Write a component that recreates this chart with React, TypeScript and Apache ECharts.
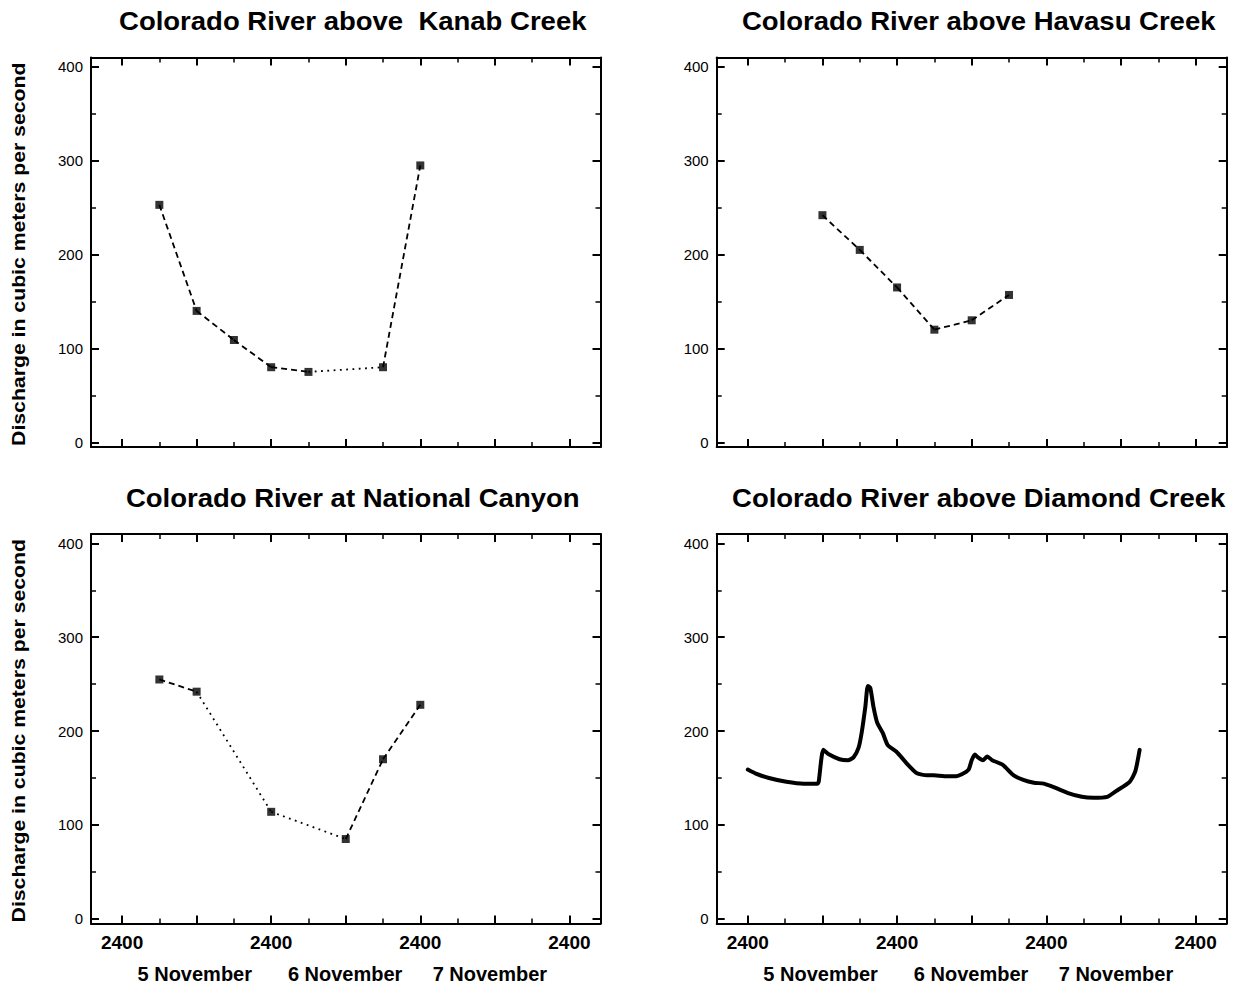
import React, { useEffect, useRef } from "react";
import * as echarts from "echarts";

// ---------------- data ----------------
const panelTitles = [
  "Colorado River above  Kanab Creek",
  "Colorado River above Havasu Creek",
  "Colorado River at National Canyon",
  "Colorado River above Diamond Creek",
];
const yAxisTitle = "Discharge in cubic meters per second";

// hours after 2400 on 4 November
const kanabHours = [6, 12, 18, 24, 30, 42, 48];
const kanabValues = [253, 140, 109, 80, 75, 80, 295];

const havasuHours = [12, 18, 24, 30, 36, 42];
const havasuValues = [242, 205, 165, 120, 130, 157];

const nationalHours = [6, 12, 24, 36, 42, 48];
const nationalValues = [255, 242, 114, 85, 170, 228];

const diamondHours = [0, 1.2, 3.4, 6.2, 9, 11.2, 11.4, 12.15, 13.1, 14.75, 16.1, 17, 17.8, 18.3, 18.9, 19.3, 19.7, 20.2, 20.8, 21.7, 22.5, 23.9, 25.5, 27.2, 28.8, 29.9, 31.6, 33.5, 34.4, 35.5, 36, 36.5, 37, 37.8, 38.5, 39.3, 41, 42.7, 44.3, 46, 47.6, 49.3, 51.5, 53.7, 55.6, 57.8, 59.2, 61.4, 62.3, 63];
const diamondValues = [159, 155, 150, 146, 144, 144, 146, 180, 175, 170, 169, 172, 182, 198, 226, 248, 246, 226, 209, 198, 185, 178, 166, 155, 153, 153, 152, 152, 154, 159, 169, 175, 172, 169, 173, 169, 164, 153, 148, 145, 144, 140, 134, 130, 129, 130, 136, 146, 157, 180];

const xMajorTicks = [0, 12, 24, 36, 48, 60, 72];
const xMinorTicks = [6, 18, 30, 42, 54, 66];
const xLabelTicks = [0, 24, 48, 72];
const xTickLabel = "2400";
const dayLabelHours = [11.7, 35.9, 59.2];
const dayLabels = ["5 November", "6 November", "7 November"];
const yMajorTicks = [0, 100, 200, 300, 400];
const yMinorTicks = [50, 150, 250, 350];
const xRange = [-5, 77];
const yRange = [-5, 410];
const sampleStep = 6; // hours between regular samples

// ---------------- layout ----------------
const panels = [
  { left: 91, top: 57.5, width: 509.5, height: 389.5, xLabels: false, yTitle: true },
  { left: 716.7, top: 57.5, width: 510, height: 389.5, xLabels: false, yTitle: false },
  { left: 91, top: 534, width: 509.5, height: 389.5, xLabels: true, yTitle: true },
  { left: 716.7, top: 534, width: 510, height: 389.5, xLabels: true, yTitle: false },
];
const FONT = '"Liberation Sans", Arial, Helvetica, sans-serif';

function buildOption() {
  const grids: any[] = [];
  const xAxes: any[] = [];
  const yAxes: any[] = [];
  const series: any[] = [];
  const graphics: any[] = [];
  const dataXIndex: number[] = [];
  const dataYIndex: number[] = [];

  panels.forEach((p, g) => {
    grids.push({ left: p.left, top: p.top, width: p.width, height: p.height, containLabel: false });
    const baseX = {
      type: "value",
      gridIndex: g,
      min: xRange[0],
      max: xRange[1],
      splitLine: { show: false },
      axisLine: { show: false, onZero: false },
      axisLabel: { show: false },
    };
    const lineStyle = { color: "#000", width: 2 };
    dataXIndex.push(xAxes.length);
    xAxes.push({
      ...baseX,
      position: "bottom",
      axisLine: { show: true, onZero: false, lineStyle },
      axisTick: { show: true, inside: true, length: 8, customValues: xMajorTicks, lineStyle: { color: "#000", width: 2 } },
      axisLabel: p.xLabels
        ? {
            show: true,
            customValues: xLabelTicks,
            formatter: () => xTickLabel,
            color: "#000",
            fontFamily: FONT,
            fontWeight: "bold",
            fontSize: 19,
            margin: 9,
          }
        : { show: false },
    });
    xAxes.push({
      ...baseX,
      position: "bottom",
      axisTick: { show: true, inside: true, length: 5, customValues: xMinorTicks, lineStyle: { color: "#000", width: 1.5 } },
    });
    xAxes.push({
      ...baseX,
      position: "top",
      axisLine: { show: true, onZero: false, lineStyle },
      axisTick: { show: true, inside: true, length: 8, customValues: xMajorTicks, lineStyle: { color: "#000", width: 2 } },
    });
    xAxes.push({
      ...baseX,
      position: "top",
      axisTick: { show: true, inside: true, length: 5, customValues: xMinorTicks, lineStyle: { color: "#000", width: 1.5 } },
    });
    if (p.xLabels) {
      xAxes.push({
        ...baseX,
        position: "bottom",
        axisTick: { show: false },
        axisLabel: {
          show: true,
          customValues: dayLabelHours,
          formatter: (v: number) => dayLabels[dayLabelHours.indexOf(v)] ?? "",
          color: "#000",
          fontFamily: FONT,
          fontWeight: "bold",
          fontSize: 20,
          margin: 40,
        },
      });
    }

    const baseY = {
      type: "value",
      gridIndex: g,
      min: yRange[0],
      max: yRange[1],
      splitLine: { show: false },
      axisLine: { show: false, onZero: false },
      axisLabel: { show: false },
    };
    dataYIndex.push(yAxes.length);
    yAxes.push({
      ...baseY,
      position: "left",
      axisLine: { show: true, onZero: false, lineStyle },
      axisTick: { show: true, inside: true, length: 8, customValues: yMajorTicks, lineStyle: { color: "#000", width: 2 } },
      axisLabel: {
        show: true,
        customValues: yMajorTicks,
        color: "#000",
        fontFamily: FONT,
        fontSize: 15,
        margin: 8,
      },
    });
    yAxes.push({
      ...baseY,
      position: "left",
      axisTick: { show: true, inside: true, length: 5, customValues: yMinorTicks, lineStyle: { color: "#000", width: 1.5 } },
    });
    yAxes.push({
      ...baseY,
      position: "right",
      axisLine: { show: true, onZero: false, lineStyle },
      axisTick: { show: true, inside: true, length: 8, customValues: yMajorTicks, lineStyle: { color: "#000", width: 2 } },
    });
    yAxes.push({
      ...baseY,
      position: "right",
      axisTick: { show: true, inside: true, length: 5, customValues: yMinorTicks, lineStyle: { color: "#000", width: 1.5 } },
    });

    // titles
    graphics.push({
      type: "text",
      x: p.left + p.width / 2 + 7,
      y: p.top - 36,
      scaleX: 1.1,
      style: {
        text: panelTitles[g],
        x: 0,
        y: 0,
        fill: "#000",
        font: `bold 25px ${FONT}`,
        align: "center",
        verticalAlign: "middle",
      },
    });
    if (p.yTitle) {
      graphics.push({
        type: "text",
        x: 19,
        y: p.top + p.height / 2 + 2,
        rotation: Math.PI / 2,
        scaleX: 1.18,
        style: {
          text: yAxisTitle,
          x: 0,
          y: 0,
          fill: "#000",
          font: `bold 18px ${FONT}`,
          align: "center",
          verticalAlign: "middle",
        },
      });
    }
  });

  // sampled series: dashed between consecutive samples, dotted across gaps
  const sampled = [
    { g: 0, hours: kanabHours, values: kanabValues },
    { g: 1, hours: havasuHours, values: havasuValues },
    { g: 2, hours: nationalHours, values: nationalValues },
  ];
  sampled.forEach(({ g, hours, values }) => {
    for (let i = 0; i < hours.length - 1; i++) {
      const gap = hours[i + 1] - hours[i] > sampleStep;
      series.push({
        type: "line",
        xAxisIndex: dataXIndex[g],
        yAxisIndex: dataYIndex[g],
        data: [
          [hours[i], values[i]],
          [hours[i + 1], values[i + 1]],
        ],
        showSymbol: false,
        symbol: "none",
        silent: true,
        lineStyle: { color: "#000", width: 1.8, type: gap ? [1.8, 4.5] : [6, 4] },
      });
    }
    series.push({
      type: "scatter",
      xAxisIndex: dataXIndex[g],
      yAxisIndex: dataYIndex[g],
      data: hours.map((h, i) => [h, values[i]]),
      symbol: "rect",
      symbolSize: 8,
      itemStyle: { color: "#000" },
      silent: true,
    });
  });

  series.push({
    type: "line",
    xAxisIndex: dataXIndex[3],
    yAxisIndex: dataYIndex[3],
    data: diamondHours.map((h, i) => [h, diamondValues[i]]),
    showSymbol: false,
    symbol: "none",
    smooth: 0.2,
    silent: true,
    lineStyle: { color: "#000", width: 4, cap: "round", join: "round" },
  });

  return {
    animation: false,
    backgroundColor: "#fff",
    textStyle: { fontFamily: FONT },
    grid: grids,
    xAxis: xAxes,
    yAxis: yAxes,
    series,
    graphic: graphics,
  };
}

export default function App() {
  const ref = useRef<HTMLDivElement>(null);
  useEffect(() => {
    if (!ref.current) return;
    const chart = echarts.init(ref.current, undefined, { renderer: "svg" });
    chart.setOption(buildOption() as any);
    return () => chart.dispose();
  }, []);
  return (
    <div
      ref={ref}
      style={{ position: "absolute", left: 0, top: 0, width: 1244, height: 991, background: "#fff" }}
    />
  );
}
